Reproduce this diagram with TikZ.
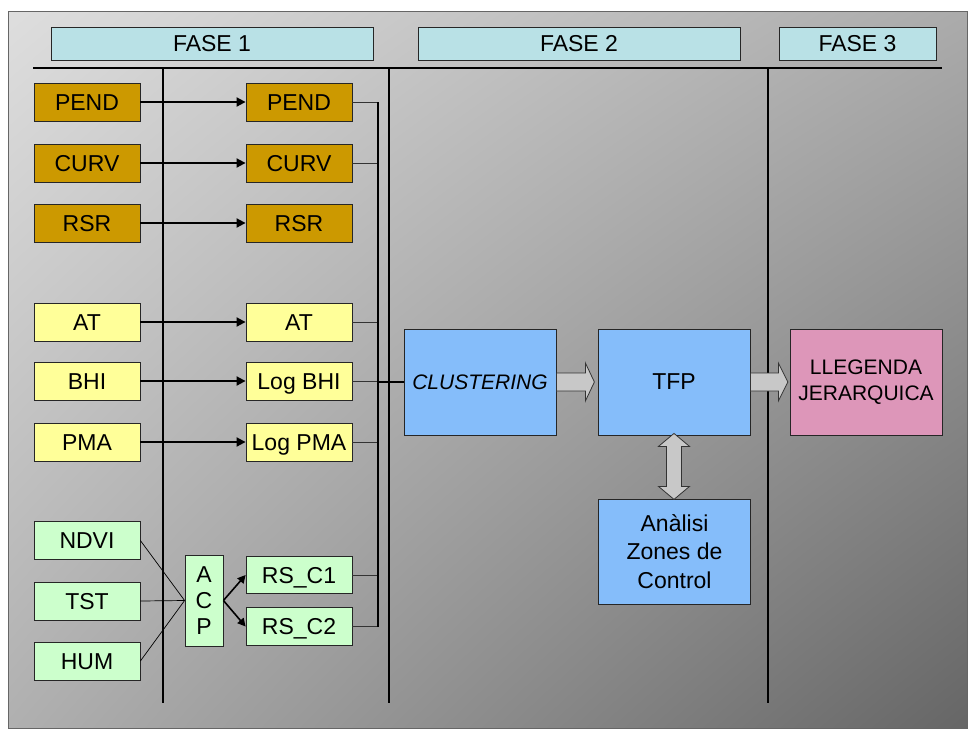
\documentclass[tikz,border=0pt]{standalone}
\usepackage{fontspec}
\setmainfont{Liberation Sans}
\usepackage{xcolor}
\usetikzlibrary{arrows.meta,calc,shadings}

\definecolor{faseblue}{HTML}{B9E1E6}
\definecolor{topobrown}{HTML}{CC9900}
\definecolor{climyellow}{HTML}{FFFF99}
\definecolor{rsgreen}{HTML}{CCFFCC}
\definecolor{procblue}{HTML}{85BDFA}
\definecolor{legpink}{HTML}{DD96B9}
\definecolor{arrowgray}{HTML}{C8C8C8}

\begin{document}
\begin{tikzpicture}[x=1pt,y=-1pt,
    box/.style={draw=black!85,line width=0.8pt,inner sep=0pt,minimum width=106pt,
      minimum height=38pt,text height=16.5pt,text depth=0pt,font=\fontsize{23}{28}\selectfont},
    fasebox/.style={box,fill=faseblue,minimum height=33pt},
    procbox/.style={draw=black!85,line width=0.8pt,inner sep=0pt,minimum width=152pt,
      minimum height=106pt,align=center,font=\fontsize{23}{28.5}\selectfont},
    flow/.style={line width=1.8pt,-{Triangle[length=9pt,width=9pt]}},
    stub/.style={line width=0.8pt,black!80},
    bus/.style={line width=1.6pt},
    thinline/.style={line width=0.7pt},
    divider/.style={line width=1.2pt},
    blockarrow/.style={draw=black!80,line width=0.8pt,fill=arrowgray}]
    \def\cA{87}\def\cB{299}
    \useasboundingbox (0,0) rectangle (969,729);
    % Slide background
    \shade[upper left=black!13,upper right=black!33,lower left=black!31,lower right=black!60]
      (8,11) rectangle (967,728);
    \draw[black!60,line width=0.8pt] (8,11) rectangle (967,728);
    % Fase headers
    \node[fasebox,minimum width=322pt] (fase1) at (212,43.5) {FASE 1};
    \node[fasebox,minimum width=322pt] (fase2) at (579,43.5) {FASE 2};
    \node[fasebox,minimum width=157pt] (fase3) at (857.5,43.5) {FASE 3};
    % Grid lines
    \draw[divider] (33,68) -- (942,68);
    \foreach \x in {163,389,768}
      \draw[divider] (\x,68) -- (\x,703);
    % Input variables and transformed variables
    \foreach \n/\y/\a/\b/\c in {pend/102/PEND/PEND/topobrown,
        curv/163/CURV/CURV/topobrown,
        rsr/223/RSR/RSR/topobrown,
        at/322/AT/AT/climyellow,
        bhi/381/BHI/Log BHI/climyellow,
        pma/442/PMA/Log PMA/climyellow}{
      \node[box,fill=\c] (\n1) at (\cA,\y) {\a};
      \node[box,fill=\c] (\n2) at (\cB,\y) {\b};
      \draw[flow] (\n1) -- (\n2);
    }
    % Remote sensing variables -> ACP
    \node[box,fill=rsgreen] (ndvi) at (\cA,540.5) {NDVI};
    \node[box,fill=rsgreen] (tst) at (\cA,601) {TST};
    \node[box,fill=rsgreen] (hum) at (\cA,661) {HUM};
    \node[draw=black!85,line width=0.8pt,fill=rsgreen,inner sep=0pt,minimum width=38pt,
      minimum height=91pt,align=center,font=\fontsize{23}{26}\selectfont] (acp) at (204,600.5) {A\\C\\P};
    \node[box,fill=rsgreen,minimum height=37pt] (rsc1) at (\cB,575) {RS\_C1};
    \node[box,fill=rsgreen] (rsc2) at (\cB,626.5) {RS\_C2};
    \foreach \n in {ndvi,tst,hum}
      \draw[thinline] (\n.east) -- (acp.west);
    \draw[line width=1.6pt,-{Triangle[length=8pt,width=8pt]}] (acp.east) -- (rsc1.west);
    \draw[line width=1.6pt,-{Triangle[length=8pt,width=8pt]}] (acp.east) -- (rsc2.west);
    % Fase 2 and 3 boxes
    \node[procbox,fill=procblue,font=\fontsize{21}{26}\selectfont\itshape] (clus) at (480,382) {CLUSTERING};
    \node[procbox,fill=procblue] (tfp) at (674,382) {TFP};
    \node[procbox,fill=legpink,font=\fontsize{21}{25.7}\selectfont] (lleg) at (866,382) {LLEGENDA\\JERARQUICA};
    \node[procbox,fill=procblue,minimum height=105pt] (ana) at (674.5,551.5) {Anàlisi\\Zones de\\Control};
    % Bus to clustering
    \coordinate (bus) at (378,0);
    \foreach \n in {pend2,curv2,at2,bhi2,pma2,rsc1,rsc2}
      \draw[stub] (\n.east) -- (\n.east -| bus);
    \draw[bus] (pend2.east -| bus) -- (rsc2.east -| bus);
    \draw[bus] (clus.west -| bus) -- (clus.west);
    % Block arrows
    \begin{scope}[shift={(clus.east)}]
      \draw[blockarrow] (0,-9) -- (29,-9) -- (29,-19) -- (38,0) -- (29,19) -- (29,9) -- (0,9) -- cycle;
    \end{scope}
    \begin{scope}[shift={(tfp.east)}]
      \draw[blockarrow] (0,-9) -- (28,-9) -- (28,-19) -- (37.5,0) -- (28,19) -- (28,9) -- (0,9) -- cycle;
    \end{scope}
    \begin{scope}[shift={(tfp.south)}]
      \draw[blockarrow] (0,-2) -- (15.5,11) -- (7.5,11) -- (7.5,51) -- (15.5,51) -- (0,64)
        -- (-15.5,51) -- (-7.5,51) -- (-7.5,11) -- (-15.5,11) -- cycle;
    \end{scope}
  \end{tikzpicture}
\end{document}
